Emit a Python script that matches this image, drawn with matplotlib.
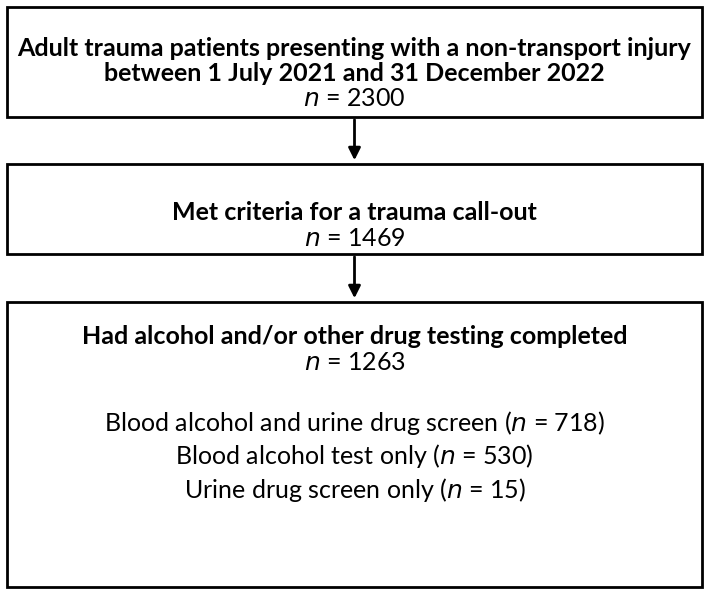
import matplotlib
matplotlib.use("Agg")
import matplotlib.pyplot as plt
from matplotlib.patches import Rectangle

titles = ["Adult trauma patients presenting with a non-transport injury\nbetween 1 July 2021 and 31 December 2022",
          "Met criteria for a trauma call-out",
          "Had alcohol and/or other drug testing completed"]
counts = [2300, 1469, 1263]
sub_labels = ["Blood alcohol and urine drug screen", "Blood alcohol test only", "Urine drug screen only"]
sub_counts = [718, 530, 15]

plt.rcParams['font.family'] = ['Lato', 'DejaVu Sans']
fig = plt.figure(figsize=(7.09, 5.94), dpi=100)
ax = fig.add_axes([0, 0, 1, 1])
ax.set_xlim(0, 709); ax.set_ylim(594, 0); ax.axis('off')

boxes = [(7, 7, 695, 110), (7, 164, 695, 90), (7, 302, 695, 285)]
for (x, y, w, h) in boxes:
    ax.add_patch(Rectangle((x, y), w, h, fill=False, lw=2, ec='black'))

fs = 18
ax.text(354.5, 61, titles[0], ha='center', va='center', fontsize=fs, fontweight='bold', linespacing=1.15)
ax.text(354.5, 99, f"$n$ = {counts[0]}", ha='center', va='center', fontsize=fs)
ax.text(354.5, 212, titles[1], ha='center', va='center', fontsize=fs, fontweight='bold')
ax.text(354.5, 239, f"$n$ = {counts[1]}", ha='center', va='center', fontsize=fs)
ax.text(354.5, 337, titles[2], ha='center', va='center', fontsize=fs, fontweight='bold')
ax.text(354.5, 363, f"$n$ = {counts[2]}", ha='center', va='center', fontsize=fs)
for i, (l, c) in enumerate(zip(sub_labels, sub_counts)):
    ax.text(354.5, 423 + 33.5 * i, f"{l} ($n$ = {c})", ha='center', va='center', fontsize=fs)

for y0, y1 in [(117, 163), (254, 301)]:
    ax.annotate('', xy=(354.5, y1), xytext=(354.5, y0),
                arrowprops=dict(arrowstyle='-|>', lw=2, color='black', mutation_scale=18))

fig.savefig('out.png', dpi=100)
